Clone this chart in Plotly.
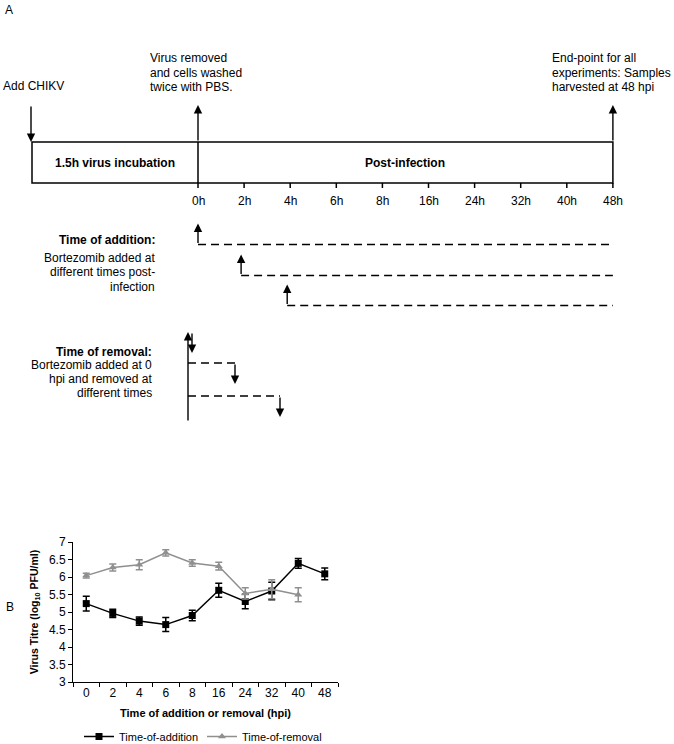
import plotly.graph_objects as go

# ---------------- data ----------------
timeline_labels = ["0h", "2h", "4h", "6h", "8h", "16h", "24h", "32h", "40h", "48h"]
hours = ["0", "2", "4", "6", "8", "16", "24", "32", "40", "48"]

addition_titre = [5.24, 4.96, 4.74, 4.64, 4.90, 5.62, 5.30, 5.60, 6.39, 6.09]
addition_err = [0.21, 0.12, 0.12, 0.20, 0.15, 0.20, 0.21, 0.25, 0.14, 0.17]

removal_hours = ["0", "2", "4", "6", "8", "16", "24", "32", "40"]
removal_titre = [6.04, 6.27, 6.35, 6.69, 6.40, 6.31, 5.53, 5.65, 5.49]
removal_err = [0.07, 0.10, 0.14, 0.09, 0.09, 0.11, 0.16, 0.27, 0.20]

addition_start_index = [0, 1, 2]      # Bortezomib added at 0h, 2h, 4h
removal_steps = [1, 2, 3]             # schematic removal steps

W, H = 674, 744
FONT = "Arial, Liberation Sans, sans-serif"
GRAY = "#8f8f8f"

fig = go.Figure()

# ---------------- panel B chart ----------------
fig.add_trace(go.Scatter(
    x=hours, y=addition_titre, name="Time-of-addition",
    mode="lines+markers",
    line=dict(color="black", width=1.5),
    marker=dict(symbol="square", size=7, color="black"),
    error_y=dict(type="data", array=addition_err, color="black", thickness=1.5, width=3.5),
    xaxis="x", yaxis="y"))
fig.add_trace(go.Scatter(
    x=removal_hours, y=removal_titre, name="Time-of-removal",
    mode="lines+markers",
    line=dict(color=GRAY, width=1.5),
    marker=dict(symbol="triangle-up", size=7, color=GRAY),
    error_y=dict(type="data", array=removal_err, color=GRAY, thickness=1.5, width=3.5),
    xaxis="x", yaxis="y"))

shapes = []
ann = []

def line(x0, y0, x1, y1, dash=None, width=1.5):
    d = dict(type="line", xref="x2", yref="y2", x0=x0, y0=y0, x1=x1, y1=y1,
             line=dict(color="black", width=width), layer="above")
    if dash:
        d["line"]["dash"] = dash
    shapes.append(d)

def arrow(x0, y0, x1, y1):
    ann.append(dict(x=x1, y=y1, ax=x0, ay=y0, xref="x2", yref="y2", axref="x2", ayref="y2",
                    text="", showarrow=True, arrowhead=2, arrowsize=1.2, arrowwidth=1.4,
                    arrowcolor="black", standoff=0, startstandoff=0))

def text(x, y, s, xanchor="left", bold=False, size=12):
    if bold:
        s = "<b>" + s + "</b>"
    ann.append(dict(x=x, y=y, xref="x2", yref="y2", text=s, showarrow=False,
                    xanchor=xanchor, yanchor="middle", font=dict(family=FONT, size=size, color="black")))

# ---------------- panel A schematic ----------------
text(3, 10, "A", size=12)
text(4, 607, "B", size=12)

box_left, box_top, box_bot = 32, 142, 183
tick0, tick_step = 198, 46.1
tick_x = [tick0 + i * tick_step for i in range(len(timeline_labels))]
box_right = tick_x[-1]

shapes.append(dict(type="rect", xref="x2", yref="y2", x0=box_left, x1=box_right, y0=box_top, y1=box_bot,
                   line=dict(color="black", width=1.5), layer="above"))
line(tick_x[0], box_top, tick_x[0], box_bot)
for i, lab in enumerate(timeline_labels):
    line(tick_x[i], box_bot, tick_x[i], box_bot + 5)
    text(tick_x[i], 201, lab, xanchor="center", size=12)

text(115, 163, "1.5h virus incubation", xanchor="center", bold=True)
text(405, 163, "Post-infection", xanchor="center", bold=True)

text(1, 86, "Add CHIKV")
arrow(box_left - 1, 105, box_left - 1, box_top)

for j, s in enumerate(["Virus removed", "and cells washed", "twice with PBS."]):
    text(148, 58 + 14.5 * j, s)
arrow(tick_x[0], box_top, tick_x[0], 105)

for j, s in enumerate(["End-point for all", "experiments: Samples", "harvested at 48 hpi"]):
    text(550, 58 + 14.5 * j, s)
arrow(box_right, box_top, box_right, 105)

# time of addition
text(157, 240, "Time of addition:", xanchor="right", bold=True)
for j, s in enumerate(["Bortezomib added at", "different times post-", "infection"]):
    text(157, 257.5 + 14.5 * j, s, xanchor="right")
add_line_y = [244.5, 275.5, 305.5]
for k, idx in enumerate(addition_start_index):
    xs = tick_x[idx] - (0 if idx == 0 else 3)
    y = add_line_y[k]
    line(xs, y, box_right, y, dash="8px,5px")
    arrow(xs, y, xs, y - 21)

# time of removal
text(154, 352, "Time of removal:", xanchor="right", bold=True)
for j, s in enumerate(["Bortezomib added at 0", "hpi and removed at", "different times"]):
    text(154, 365 + 14 * j, s, xanchor="right")
rx = 188
arrow(rx, 422, rx, 332)
rem_y = [332, 363, 396]
rem_x = [192, 235, 280]
for k, st in enumerate(removal_steps):
    y = rem_y[k]
    if k > 0:
        line(rx, y, rem_x[k], y, dash="8px,5px")
    arrow(rem_x[k], y, rem_x[k], y + 21)

fig.update_layout(
    width=W, height=H,
    margin=dict(l=0, r=0, t=0, b=0, autoexpand=False),
    paper_bgcolor="white", plot_bgcolor="rgba(0,0,0,0)",
    font=dict(family=FONT, size=12, color="black"),
    showlegend=True,
    legend=dict(orientation="h", x=79 / W, xanchor="left", y=-7 / H, yanchor="bottom",
                entrywidth=78, entrywidthmode="pixels",
                font=dict(size=11, family=FONT), bgcolor="rgba(0,0,0,0)"),
    xaxis=dict(domain=[73 / W, 338 / W], anchor="y", type="category", automargin=False,
               categoryorder="array", categoryarray=hours, range=[-0.5, 9.5],
               showline=True, linecolor="black", linewidth=1, ticks="outside", tickson="boundaries",
               ticklen=4, tickcolor="black", tickfont=dict(size=12), showgrid=False, zeroline=False,
               title=dict(text="<b>Time of addition or removal (hpi)</b>", font=dict(size=11), standoff=9)),
    yaxis=dict(domain=[(H - 682) / H, (H - 542) / H], anchor="x", range=[3, 7], dtick=0.5, automargin=False,
               showline=True, linecolor="black", linewidth=1, ticks="outside", ticklen=4,
               tickcolor="black", tickfont=dict(size=12), showgrid=False, zeroline=False,
               title=dict(text="<b>Virus Titre (log<sub>10</sub> PFU/ml)</b>", font=dict(size=10.5), standoff=8)),
    xaxis2=dict(domain=[0, 1], anchor="y2", range=[0, W], visible=False, fixedrange=True),
    yaxis2=dict(domain=[0, 1], anchor="x2", range=[H, 0], visible=False, fixedrange=True),
    shapes=shapes, annotations=ann,
)

fig.write_html("out.html", config={"displayModeBar": False},
               post_script="document.body.style.margin='0';")
